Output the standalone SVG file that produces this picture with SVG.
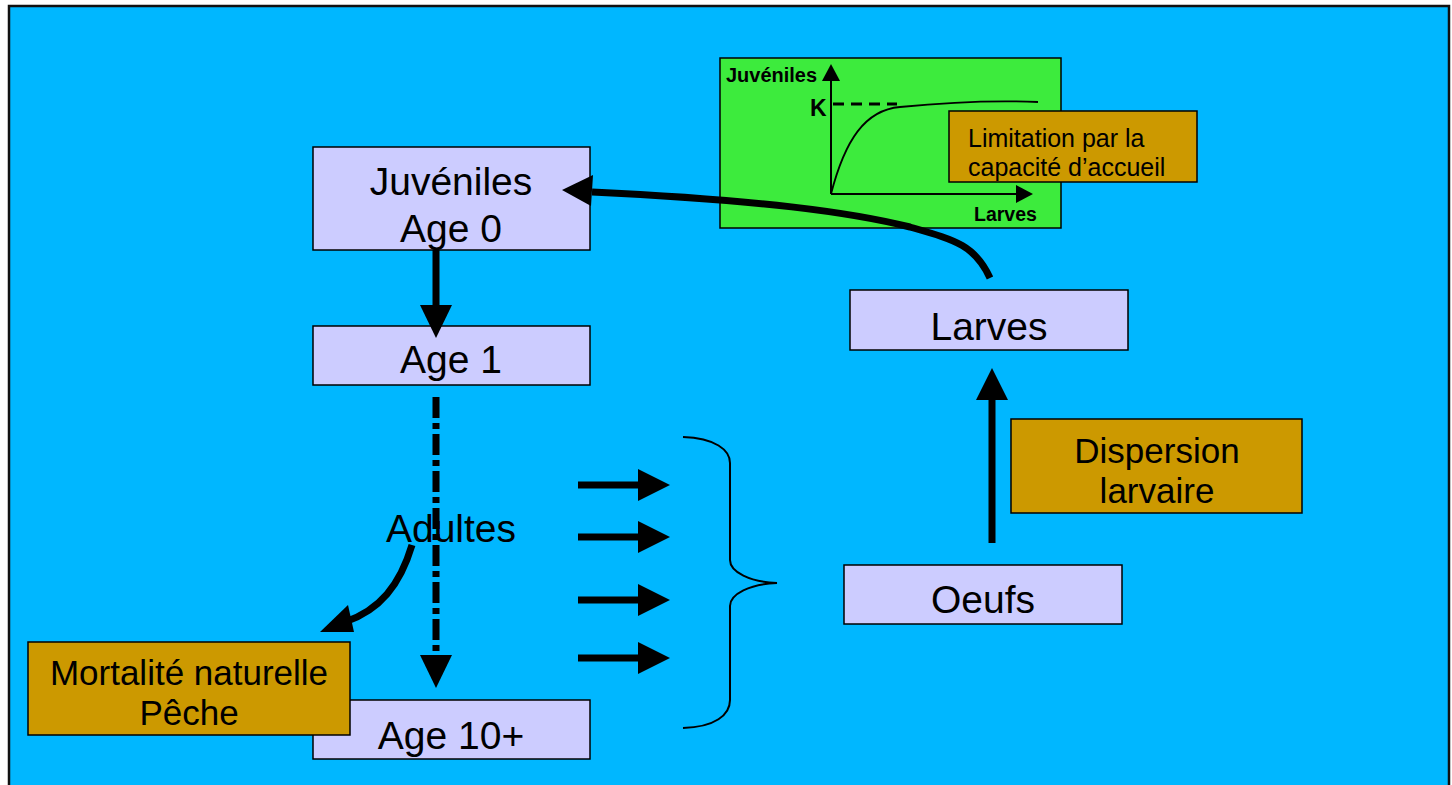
<svg xmlns="http://www.w3.org/2000/svg" width="1452" height="785" viewBox="0 0 1452 785">
<style>
text{font-family:"Liberation Sans",Arial,sans-serif;fill:#000}
.node{fill:#CCCCFF;stroke:#000;stroke-width:1.5}
.note{fill:#CC9900;stroke:#000;stroke-width:1.5}
.big{font-size:39px;text-anchor:middle}
.mid{font-size:35px;text-anchor:middle}
.thick{fill:none;stroke:#000;stroke-width:7}
.head{fill:#000}
</style>
<rect x="0" y="0" width="1452" height="785" fill="#fff"/>
<rect x="9" y="6" width="1440" height="785" fill="#00B7FF" stroke="#111" stroke-width="2.5"/>
<g id="graph">
<rect x="720" y="58" width="341" height="170" fill="#3DEB3D" stroke="#000" stroke-width="1.5"/>
<line x1="831" y1="194" x2="831" y2="80" stroke="#000" stroke-width="2"/>
<polygon points="831,64 822,81 840,81" class="head"/>
<line x1="831" y1="194" x2="1018" y2="194" stroke="#000" stroke-width="2"/>
<polygon points="1033,194 1016,185 1016,203" class="head"/>
<line x1="833" y1="104" x2="897" y2="104" stroke="#000" stroke-width="3" stroke-dasharray="11,7"/>
<path d="M831,194 C845,140 865,110 900,107 C950,102 990,100 1038,102" fill="none" stroke="#000" stroke-width="1.8"/>
<text x="726" y="82" font-size="20" font-weight="bold" textLength="91" lengthAdjust="spacingAndGlyphs">Juvéniles</text>
<text x="810" y="116" font-size="23" font-weight="bold">K</text>
<text x="974" y="221" font-size="19.5" font-weight="bold">Larves</text>
</g>
<g id="limitation">
<rect x="949" y="111" width="248" height="71" class="note"/>
<text x="968" y="147" font-size="25">Limitation par la</text>
<text x="968" y="176" font-size="25">capacité d’accueil</text>
</g>
<g id="juveniles">
<rect x="313" y="147" width="277" height="103" class="node"/>
<text x="451" y="195" class="big">Juvéniles</text>
<text x="451" y="242" class="big">Age 0</text>
</g>
<g id="age1">
<rect x="313" y="326" width="277" height="59" class="node"/>
<text x="451" y="373" class="big">Age 1</text>
</g>
<g id="age10">
<rect x="313" y="700" width="277" height="59" class="node"/>
<text x="451" y="749" class="big">Age 10+</text>
</g>
<g id="mortalite">
<rect x="28" y="642" width="322" height="93" class="note"/>
<text x="189" y="685" class="mid">Mortalité naturelle</text>
<text x="189" y="725" class="mid">Pêche</text>
</g>
<g id="larves">
<rect x="850" y="290" width="278" height="60" class="node"/>
<text x="989" y="340" class="big">Larves</text>
</g>
<g id="oeufs">
<rect x="844" y="565" width="278" height="59" class="node"/>
<text x="983" y="613" class="big">Oeufs</text>
</g>
<g id="dispersion">
<rect x="1011" y="419" width="291" height="94" class="note"/>
<text x="1157" y="463" class="mid">Dispersion</text>
<text x="1157" y="503" class="mid">larvaire</text>
</g>
<g id="adultes">
<text x="451" y="542" class="big">Adultes</text>
</g>
<g id="connectors">
<path d="M990,278 C975,245 955,240 910,227 C850,212 760,200 592,192" class="thick"/>
<polygon points="562,190 593,175 591,206" class="head"/>
<line x1="436" y1="250" x2="436" y2="310" stroke="#000" stroke-width="7"/>
<polygon points="436,338 420,305 452,305" class="head"/>
<line x1="436" y1="397" x2="436" y2="660" stroke="#000" stroke-width="7" stroke-dasharray="21,5,6,5"/>
<polygon points="436,688 420,655 452,655" class="head"/>
<path d="M412,545 C400,585 380,610 345,622" class="thick"/>
<polygon points="320,632 348,605 354,632" class="head"/>
<g>
<line x1="578" y1="485" x2="642" y2="485" stroke="#000" stroke-width="7"/>
<polygon points="670,485 638,469 638,501" class="head"/>
<line x1="578" y1="537" x2="642" y2="537" stroke="#000" stroke-width="7"/>
<polygon points="670,537 638,521 638,553" class="head"/>
<line x1="578" y1="600" x2="642" y2="600" stroke="#000" stroke-width="7"/>
<polygon points="670,600 638,584 638,616" class="head"/>
<line x1="578" y1="658" x2="642" y2="658" stroke="#000" stroke-width="7"/>
<polygon points="670,658 638,642 638,674" class="head"/>
</g>
<path d="M683,437 C715,438 730,450 730,463 L730,560 C730,572 750,582 777,583 C750,584 730,594 730,606 L730,700 C730,715 715,727 683,728" fill="none" stroke="#000" stroke-width="2"/>
<line x1="992" y1="543" x2="992" y2="396" stroke="#000" stroke-width="7"/>
<polygon points="992,368 976,400 1008,400" class="head"/>
</g>
</svg>
